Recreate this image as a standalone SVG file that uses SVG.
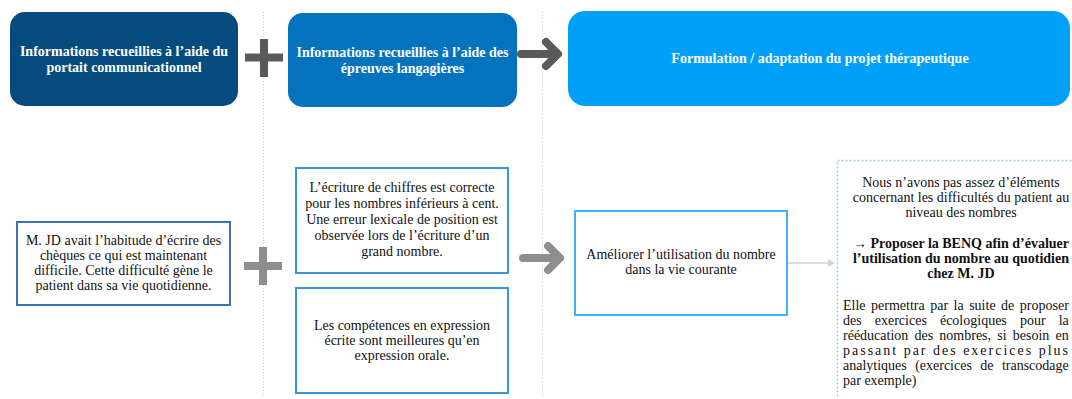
<svg xmlns="http://www.w3.org/2000/svg" width="1072" height="399" viewBox="0 0 1072 399">
<style>
text{font-family:"Liberation Serif","Times New Roman",serif;font-size:14px;fill:#111;text-anchor:middle}
.hd{fill:#fff;font-weight:bold}
.b{font-weight:bold}
.just{text-anchor:start}
.guide{stroke:#cfcfcf;stroke-width:1;stroke-dasharray:1 2;fill:none}
.op1{stroke:#5a5a5a;stroke-width:8;fill:none}
.op2{stroke:#8e8e8e;stroke-width:8;fill:none}
.box{fill:#fff;stroke-width:2}
</style>
<rect width="1072" height="399" fill="#fff"/>
<g id="guides">
<line class="guide" x1="263.5" y1="12" x2="263.5" y2="399"/>
<line class="guide" x1="542.5" y1="12" x2="542.5" y2="399"/>
</g>
<g id="header1">
<rect x="10" y="12" width="228" height="94" rx="15" fill="#054b7e"/>
<text class="hd" x="124" y="56">Informations recueillies à l’aide du</text>
<text class="hd" x="124" y="72">portait communicationnel</text>
</g>
<g id="header2">
<rect x="288" y="13" width="229" height="94" rx="15" fill="#0473bd"/>
<text class="hd" x="402.5" y="57">Informations recueillies à l’aide des</text>
<text class="hd" x="402.5" y="73">épreuves langagières</text>
</g>
<g id="header3">
<rect x="568" y="11" width="502" height="95" rx="17" fill="#00a0f9"/>
<text class="hd" x="820" y="63">Formulation / adaptation du projet thérapeutique</text>
</g>
<g id="plus-top">
<path class="op1" d="M245 57.5H283M264 39V77"/>
</g>
<g id="plus-bottom">
<path class="op2" d="M244 266H282M263 247V285"/>
</g>
<g id="connectors">
<path class="op1" d="M521 54H554" stroke-linecap="round"/>
<path class="op1" d="M546 42L558 54L546 66" stroke-linecap="round" stroke-linejoin="round"/>
<path class="op2" d="M523 258H556" stroke-linecap="round"/>
<path class="op2" d="M548 246L560 258L548 270" stroke-linecap="round" stroke-linejoin="round"/>
<line x1="788" y1="263" x2="829" y2="263" stroke="#d2d2d2" stroke-width="1.5"/>
<path d="M828 259L835 263L828 267Z" fill="#d2d2d2"/>
</g>
<g id="situation">
<rect class="box" x="17" y="222" width="213" height="83" stroke="#3d74b0"/>
<text x="123.5" y="245">M. JD avait l’habitude d’écrire des</text>
<text x="123.5" y="260">chèques ce qui est maintenant</text>
<text x="123.5" y="275">difficile. Cette difficulté gène le</text>
<text x="123.5" y="290">patient dans sa vie quotidienne.</text>
</g>
<g id="ecriture">
<rect class="box" x="296" y="168" width="212" height="105" stroke="#3d95dc"/>
<text x="402" y="192">L’écriture de chiffres est correcte</text>
<text x="402" y="208">pour les nombres inférieurs à cent.</text>
<text x="402" y="224">Une erreur lexicale de position est</text>
<text x="402" y="240">observée lors de l’écriture d’un</text>
<text x="402" y="256">grand nombre.</text>
</g>
<g id="expression">
<rect class="box" x="296" y="288" width="212" height="105" stroke="#3d95dc"/>
<text x="402" y="330">Les compétences en expression</text>
<text x="402" y="345">écrite sont meilleures qu’en</text>
<text x="402" y="360">expression orale.</text>
</g>
<g id="objectif">
<rect class="box" x="575" y="211" width="212" height="104" stroke="#41b0f6"/>
<text x="681" y="259">Améliorer l’utilisation du nombre</text>
<text x="681" y="274">dans la vie courante</text>
</g>
<g id="proposition">
<rect x="837.5" y="160.5" width="250" height="250" fill="none" stroke="#96d0f5" stroke-width="1.5" stroke-dasharray="2 2"/>
<text x="961" y="187">Nous n’avons pas assez d’éléments</text>
<text x="961" y="202">concernant les difficultés du patient au</text>
<text x="961" y="217">niveau des nombres</text>
<text class="b" x="961" y="248">→ Proposer la BENQ afin d’évaluer</text>
<text class="b" x="961" y="263">l’utilisation du nombre au quotidien</text>
<text class="b" x="961" y="278">chez M. JD</text>
<text class="just" x="843" y="310" word-spacing="2">Elle permettra par la suite de proposer</text>
<text class="just" x="843" y="325" word-spacing="9.6">des exercices écologiques pour la</text>
<text class="just" x="843" y="340" word-spacing="2.7">rééducation des nombres, si besoin en</text>
<text class="just" x="843" y="355" textLength="225" lengthAdjust="spacing">passant par des exercices plus</text>
<text class="just" x="843" y="370" word-spacing="4.9">analytiques (exercices de transcodage</text>
<text class="just" x="843" y="385">par exemple)</text>
</g>
</svg>
